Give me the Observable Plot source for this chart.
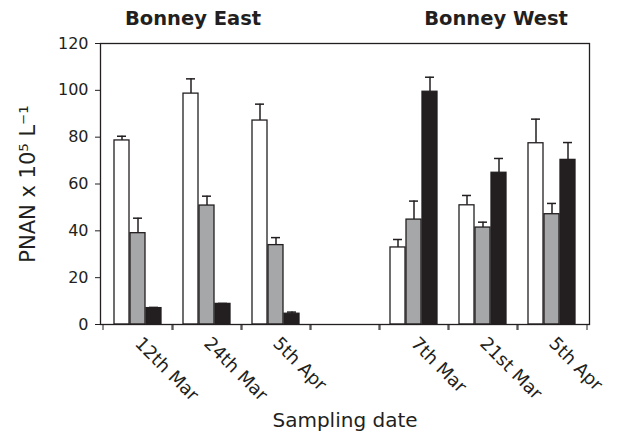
<!DOCTYPE html>
<html><head><meta charset="utf-8">
<script src="https://cdn.jsdelivr.net/npm/d3@7"></script>
<script src="https://cdn.jsdelivr.net/npm/@observablehq/plot@0.6"></script>
<style>
body{margin:0;background:#fff;}
svg{font-family:"DejaVu Sans",Verdana,sans-serif;}
</style>
</head><body><div id="chart"></div>
<script>
// ---- data ----
const dateKeys   = ["E-12th Mar","E-24th Mar","E-5th Apr","gap","W-7th Mar","W-21st Mar","W-5th Apr"];
const dateLabels = ["12th Mar","24th Mar","5th Apr","","7th Mar","21st Mar","5th Apr"];
const siteTitles = ["Bonney East","Bonney West"];
const siteTitleAt = ["E-24th Mar","W-21st Mar"];
const seriesNames = ["white","grey","black"];
const whiteVals = [78.6, 98.6, 87.1, null, 32.9, 50.9, 77.4];
const whiteErr  = [1.8, 6.3, 7.0, null, 3.4, 4.2, 10.3];
const greyVals  = [39.0, 50.8, 33.9, null, 44.8, 41.4, 47.1];
const greyErr   = [6.4, 4.0, 3.2, null, 7.9, 2.3, 4.6];
const blackVals = [7.0, 8.8, 4.6, null, 99.4, 64.8, 70.3];
const blackErr  = [0.3, 0.2, 0.7, null, 6.2, 6.1, 7.4];
const yTicks = [0, 20, 40, 60, 80, 100, 120];
const yLabel = "PNAN x 10⁵ L⁻¹";
const xLabel = "Sampling date";

// ---- build table ----
const vals = [whiteVals, greyVals, blackVals];
const errs = [whiteErr, greyErr, blackErr];
const rows = [];
seriesNames.forEach((s, si) => dateKeys.forEach((d, i) => {
  const v = vals[si][i];
  if (v != null) rows.push({date: d, series: s, value: v, upper: v + errs[si][i]});
}));
const labelOf = new Map(dateKeys.map((k, i) => [k, dateLabels[i]]));
const fills = {white: "#ffffff", grey: "#a6a7a9", black: "#231f20"};
const offsets = {white: -16, grey: 0, black: 16};
const ink = "#231f20";

const seriesMarks = seriesNames.flatMap(s => {
  const d = rows.filter(r => r.series === s);
  return [
    Plot.ruleX(d, {x: "date", y1: "value", y2: "upper", dx: offsets[s], stroke: ink, strokeWidth: 1.5}),
    Plot.tickY(d, {x: "date", y: "upper", dx: offsets[s], insetLeft: 30, insetRight: 30, stroke: ink, strokeWidth: 1.5}),
    Plot.barY(d, {x: "date", y: "value", dx: offsets[s], insetLeft: 27, insetRight: 27, fill: fills[s], stroke: ink, strokeWidth: 1.3})
  ];
});

const chart = Plot.plot({
  width: 617,
  height: 433,
  marginLeft: 100,
  marginRight: 28,
  marginTop: 43,
  marginBottom: 109,
  style: {fontFamily: '"DejaVu Sans", Verdana, sans-serif', color: ink, background: "#fff"},
  x: {domain: dateKeys, padding: 0, axis: null},
  y: {domain: [0, 120], axis: null},
  marks: [
    ...seriesMarks,
    Plot.frame({stroke: ink, strokeWidth: 1.3}),
    Plot.axisY({ticks: yTicks, tickSize: 5, tickPadding: 7, fontSize: 16, label: null, stroke: ink, fill: ink}),
    Plot.axisX({tickSize: 6, fill: "none", dx: -35, label: null, stroke: ink}),
    Plot.axisX({tickSize: 6, fill: "none", dx: 35, label: null, stroke: ink}),
    Plot.axisX({tickSize: 0, tickRotate: 45, tickPadding: 16, fontSize: 18, tickFormat: d => labelOf.get(d), label: null, fill: ink}),
    Plot.text([siteTitles[0]], {x: () => siteTitleAt[0], text: d => d, frameAnchor: "top", lineAnchor: "middle", dy: -25, dx: -14, fontSize: 19.5, fontWeight: "bold", fill: ink}),
    Plot.text([siteTitles[1]], {x: () => siteTitleAt[1], text: d => d, frameAnchor: "top", lineAnchor: "middle", dy: -25, dx: 13, fontSize: 19.5, fontWeight: "bold", fill: ink}),
    Plot.text([yLabel], {text: d => d, frameAnchor: "left", textAnchor: "middle", lineAnchor: "middle", rotate: -90, dx: -72, fontSize: 21, fill: ink}),
    Plot.text([xLabel], {text: d => d, frameAnchor: "bottom", textAnchor: "middle", lineAnchor: "middle", dy: 96, fontSize: 20, fill: ink})
  ]
});
document.getElementById("chart").appendChild(chart);
</script>
</body></html>
